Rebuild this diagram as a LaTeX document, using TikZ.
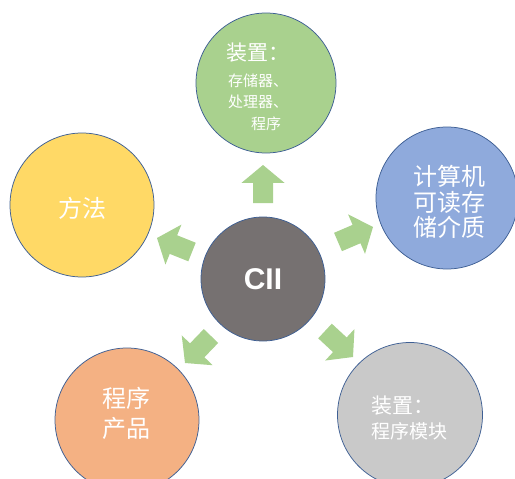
\documentclass[tikz,border=0pt]{standalone}
\usepackage{fontspec}
\setmainfont{Liberation Sans}
\newfontfamily\cjk{Noto Sans CJK SC}
\usetikzlibrary{calc}
\definecolor{cgreen}{HTML}{A9D18E}
\definecolor{cblue}{HTML}{8FAADC}
\definecolor{cyellow}{HTML}{FFD966}
\definecolor{corange}{HTML}{F4B183}
\definecolor{cgray}{HTML}{C9C9C9}
\definecolor{cdark}{HTML}{767171}
\definecolor{cedge}{HTML}{3E5F94}
\definecolor{carrow}{HTML}{A9D18E}
\newcommand\blockarrow[3]{%
  \coordinate (#1h) at ($(#2)!0.53!(#3)$);
  \fill[carrow] ($(#2)!10pt!90:(#3)$) -- ($(#1h)!10pt!90:(#3)$) -- ($(#1h)!21.5pt!90:(#3)$) -- (#3)
    -- ($(#1h)!21.5pt!-90:(#3)$) -- ($(#1h)!10pt!-90:(#3)$) -- ($(#2)!10pt!-90:(#3)$) -- cycle;
}
\begin{document}
\begin{tikzpicture}[x=1pt,y=-1pt,
  ball/.style={circle, draw=cedge, line width=0.75pt, minimum size=#1, inner sep=0pt},
  txt/.style={text=white, inner sep=0pt, font=\cjk}]
\useasboundingbox (0,0) rectangle (515,479);
% circles
\node[ball=140, fill=cgreen] (dev) at (266,83) {};
\node[ball=142, fill=cblue] (med) at (447,198) {};
\node[ball=144, fill=cyellow] (meth) at (82,205) {};
\node[ball=144, fill=corange] (prod) at (127,420) {};
\node[ball=145, fill=cgray] (mod) at (410,415) {};
\node[ball=124, fill=cdark, text=white, font=\fontsize{30}{32}\selectfont\bfseries] (cii) at (263,279) {CII};
% texts
\node[txt, align=center, font=\cjk\fontsize{15}{21.5}\selectfont] (devt) at (258,87)
  {{\fontsize{21}{21.5}\selectfont 装置：}\\[4pt]存储器、\\处理器、\\\hspace*{16pt}程序};
\node[txt, align=center, font=\cjk\fontsize{24}{25.5}\selectfont] (medt) at (449,202)
  {计算机\\可读存\\储介质};
\node[txt, font=\cjk\fontsize{24}{26}\selectfont] (metht) at (82,208) {方法};
\node[txt, align=center, font=\cjk\fontsize{24}{30}\selectfont] (prodt) at (126,413)
  {程序\\产品};
\node[txt, align=left, font=\cjk\fontsize{19}{25}\selectfont] (modt) at (409,418)
  {{\fontsize{21}{25}\selectfont 装置：}\\程序模块};
% arrows
\coordinate (a1t) at (263,203); \coordinate (a1p) at (263,165);
\coordinate (a2t) at (338,242); \coordinate (a2p) at (373,227);
\coordinate (a3t) at (192,252); \coordinate (a3p) at (157,238);
\coordinate (a4t) at (211,336); \coordinate (a4p) at (185,363);
\coordinate (a5t) at (325,331); \coordinate (a5p) at (353,357);
\blockarrow{a1}{a1t}{a1p}
\blockarrow{a2}{a2t}{a2p}
\blockarrow{a3}{a3t}{a3p}
\blockarrow{a4}{a4t}{a4p}
\blockarrow{a5}{a5t}{a5p}
\end{tikzpicture}
\end{document}
